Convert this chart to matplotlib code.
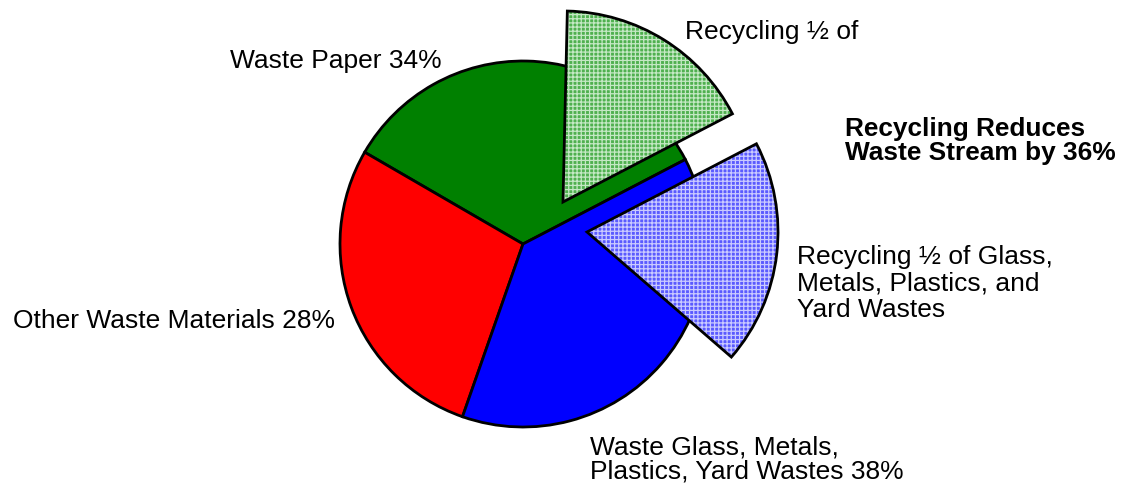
import matplotlib
matplotlib.use('Agg')
import matplotlib.pyplot as plt
from matplotlib.patches import Wedge

plt.rcParams['font.family'] = ['Liberation Sans', 'DejaVu Sans']
plt.rcParams['hatch.linewidth'] = 0.9

# waste stream shares (%)
shares = [34, 28, 38]
share_colors = ['#008000', '#ff0000', '#0000ff']
# recycled half of paper and half of glass/metals/plastics/yard wastes
recycled = [17, 19]
recycled_faces = ['#4fb04f', '#5a5aff']
recycled_hatch = ['#c4e8c4', '#cacaff']

W, H = 1134, 486
fig = plt.figure(figsize=(W / 100, H / 100), dpi=100)
ax = fig.add_axes([0, 0, 1, 1])

cx, cy, r = 523, H - 244, 183
start = 27.5

ax.pie(shares, colors=share_colors, startangle=start, counterclock=True,
       center=(cx, cy), radius=r,
       wedgeprops=dict(edgecolor='black', linewidth=2))

# exploded recycled wedges laid over the pie
paper_deg = recycled[0] / 100 * 360
glass_deg = recycled[1] / 100 * 360
big_r = 191
pieces = [
    ((cx + 40, cy + 42), start, start + paper_deg, recycled_faces[0], recycled_hatch[0]),
    ((cx + 64, cy + 12), start - glass_deg, start, recycled_faces[1], recycled_hatch[1]),
]
for c, a0, a1, fc, hc in pieces:
    ax.add_patch(Wedge(c, big_r, a0, a1, facecolor=fc, edgecolor=hc,
                       hatch='++++', linewidth=0, zorder=3))
    ax.add_patch(Wedge(c, big_r, a0, a1, facecolor='none', edgecolor='black',
                       linewidth=2, zorder=4))

fs = 19
ax.text(13, H - 309, 'Other Waste Materials 28%', fontsize=fs, va='top')
ax.text(230, H - 49, 'Waste Paper 34%', fontsize=fs, va='top')
ax.text(685, H - 20, 'Recycling \u00bd of', fontsize=fs, va='top')
ax.text(797, H - 245, 'Recycling \u00bd of Glass,\nMetals, Plastics, and\nYard Wastes',
        fontsize=fs, va='top', linespacing=1.13)
ax.text(590, H - 435, 'Waste Glass, Metals,\nPlastics, Yard Wastes 38%',
        fontsize=fs, va='top', linespacing=1.0)
ax.text(845, H - 117, 'Recycling Reduces\nWaste Stream by 36%',
        fontsize=18.9, fontweight='bold', va='top', linespacing=0.98)

ax.set_xlim(0, W)
ax.set_ylim(0, H)
ax.set_aspect('equal')
ax.axis('off')

plt.savefig('out.png', dpi=100)
